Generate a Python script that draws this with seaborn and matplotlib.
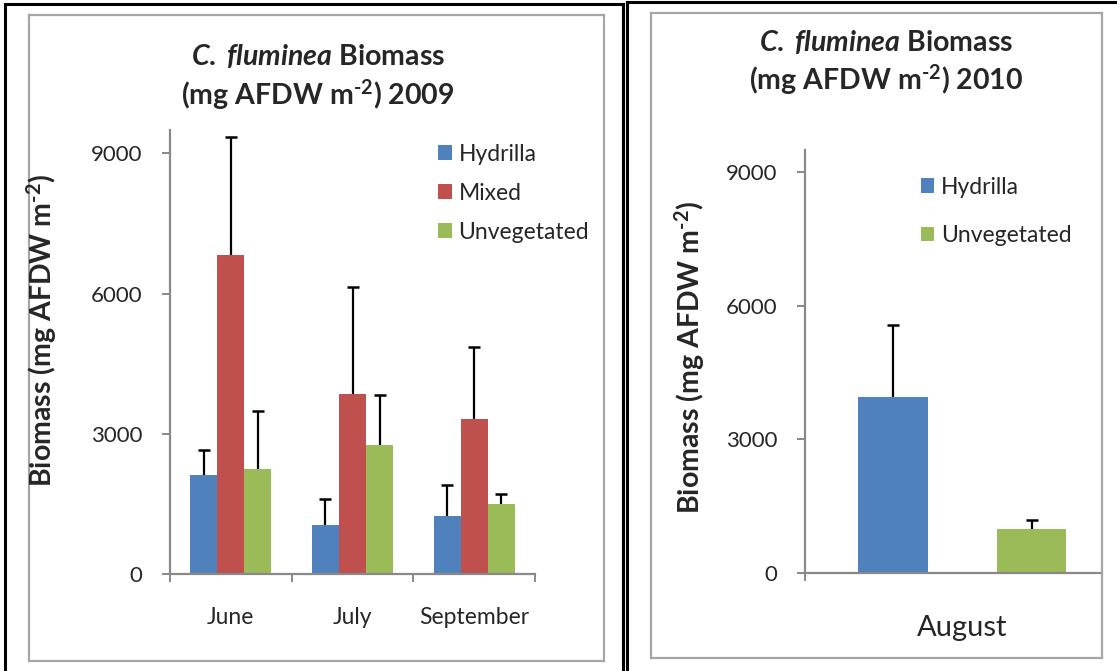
import matplotlib
matplotlib.use("Agg")
import matplotlib.pyplot as plt
from matplotlib.lines import Line2D
from matplotlib.patches import Patch
import seaborn as sns
import pandas as pd

# ---------------- data ----------------
months_2009 = ["June", "July", "September"]
hydrilla_2009 = [2110, 1050, 1250]
mixed_2009 = [6830, 3850, 3310]
unveg_2009 = [2240, 2750, 1500]
hydrilla_2009_err = [550, 565, 655]
mixed_2009_err = [2530, 2290, 1540]
unveg_2009_err = [1250, 1090, 210]

months_2010 = ["August"]
hydrilla_2010 = [3950]
unveg_2010 = [990]
hydrilla_2010_err = [1630]
unveg_2010_err = [190]

series = ["Hydrilla", "Mixed", "Unvegetated"]
colors = {"Hydrilla": "#4F81BD", "Mixed": "#C0504D", "Unvegetated": "#9BBB59"}
yticks = [0, 3000, 6000, 9000]

sns.set_theme(style="white")
plt.rcParams["font.family"] = ["Lato", "DejaVu Sans"]
plt.rcParams["mathtext.fontset"] = "custom"
plt.rcParams["mathtext.rm"] = "Lato:bold"
plt.rcParams["mathtext.bf"] = "Lato:bold"
plt.rcParams["mathtext.it"] = "Lato:bold:italic"

W, H = 1117, 671
fig = plt.figure(figsize=(W / 100, H / 100), dpi=100)
fig.patch.set_facecolor("white")


def fx(x):
    return x / W


def fy(y):
    return 1 - y / H


def frame(x0, y0, x1, y1, color, lw):
    for xs, ys in [((x0, x1), (y0, y0)), ((x0, x1), (y1, y1)),
                   ((x0, x0), (y0, y1)), ((x1, x1), (y0, y1))]:
        fig.add_artist(Line2D([fx(xs[0]), fx(xs[1])], [fy(ys[0]), fy(ys[1])],
                              transform=fig.transFigure, color=color, lw=lw,
                              solid_capstyle="projecting"))


# borders
frame(5, 4, 623, 700, "black", 2.2)
frame(627, 2, 1130, 700, "black", 2.2)
frame(29, 15, 604, 661, "#A6A6A6", 1.6)
frame(651, 13, 1102, 658, "#A6A6A6", 1.6)

GRAY = "#898989"
SUP = r"$^{\text{-2}}$"
TITLE1 = r"$\mathit{C.\;fluminea}$ Biomass"


def style_axes(ax):
    sns.despine(ax=ax)
    for s in ["left", "bottom"]:
        ax.spines[s].set_color(GRAY)
        ax.spines[s].set_linewidth(1.6)
    ax.set_ylim(0, 9500)
    ax.set_yticks(yticks)
    ax.set_yticklabels([str(v) for v in yticks])
    ax.tick_params(axis="y", which="major", direction="out", length=6,
                   width=1.4, color=GRAY, labelsize=16, pad=14,
                   left=True)
    ax.set_xlabel("")
    ax.set_ylabel("")
    ax.set_facecolor("white")


def add_errors(ax, lookup):
    for p in ax.patches:
        h = p.get_height()
        if h != h or h == 0:
            continue
        key = round(h)
        if key not in lookup:
            continue
        xc = p.get_x() + p.get_width() / 2
        _, caps, _ = ax.errorbar([xc], [h], yerr=[[0], [lookup[key]]],
                                 fmt="none", ecolor="black", elinewidth=1.6,
                                 capsize=4.3, capthick=1.8, zorder=5)
        for c in caps:
            yd = c.get_ydata()
            if len(yd) and abs(yd[0] - h) < 1e-6:
                c.set_visible(False)


# ---------------- 2009 panel ----------------
df09 = pd.DataFrame({
    "month": months_2009 * 3,
    "series": ["Hydrilla"] * 3 + ["Mixed"] * 3 + ["Unvegetated"] * 3,
    "value": hydrilla_2009 + mixed_2009 + unveg_2009,
})
err09 = {}
for vals, errs in [(hydrilla_2009, hydrilla_2009_err), (mixed_2009, mixed_2009_err),
                   (unveg_2009, unveg_2009_err)]:
    for v, e in zip(vals, errs):
        err09[round(v)] = e

ax1 = fig.add_axes([fx(170), fy(574), fx(535) - fx(170), fy(130) - fy(574)])
sns.barplot(data=df09, x="month", y="value", hue="series", hue_order=series,
            order=months_2009, palette=colors, width=0.667, errorbar=None,
            saturation=1, legend=False, ax=ax1, edgecolor="none")
add_errors(ax1, err09)
style_axes(ax1)
ax1.set_xlim(-0.5, 2.5)
ax1.set_xticks([0, 1, 2])
ax1.set_xticklabels(months_2009)
ax1.set_xticks([-0.5, 0.5, 1.5, 2.5], minor=True)
ax1.tick_params(axis="x", which="major", length=0, labelsize=16.5, pad=24)
ax1.tick_params(axis="x", which="minor", direction="out", length=6,
                width=1.4, color=GRAY, bottom=True)
handles = [Patch(facecolor=colors[s], edgecolor="none") for s in series]
ax1.legend(handles, series, loc="upper left", bbox_to_anchor=(0.69, 1.005),
           frameon=False, fontsize=16.5, handlelength=0.6, handleheight=0.6,
           handletextpad=0.3, labelspacing=0.78, borderaxespad=0.3)

fig.text(fx(318), fy(56), TITLE1, ha="center", va="center", fontsize=20.5,
         fontweight="bold")
fig.text(fx(318), fy(95), "(mg AFDW m" + SUP + ") 2009", ha="center",
         va="center", fontsize=20.5, fontweight="bold")
fig.text(fx(42), fy(330), "Biomass (mg AFDW m" + SUP + ")", ha="center",
         va="center", rotation=90, fontsize=20.5, fontweight="bold")

# ---------------- 2010 panel ----------------
df10 = pd.DataFrame({
    "month": months_2010 * 2,
    "series": ["Hydrilla", "Unvegetated"],
    "value": hydrilla_2010 + unveg_2010,
})
err10 = {round(hydrilla_2010[0]): hydrilla_2010_err[0],
         round(unveg_2010[0]): unveg_2010_err[0]}

ax2 = fig.add_axes([fx(805), fy(573), fx(1102) - fx(805), fy(150) - fy(573)])
sns.barplot(data=df10, x="month", y="value", hue="series", hue_order=series,
            order=months_2010, palette=colors, width=0.7, errorbar=None,
            saturation=1, legend=False, ax=ax2, edgecolor="none")
add_errors(ax2, err10)
style_axes(ax2)
ax2.set_xlim(-0.53, 0.47)
ax2.set_xticks([0])
ax2.set_xticklabels(months_2010)
ax2.set_xticks([-0.53], minor=True)
ax2.tick_params(axis="x", which="major", length=0, labelsize=21, pad=30)
ax2.tick_params(axis="x", which="minor", direction="out", length=6,
                width=1.4, color=GRAY, bottom=True)
hs2 = ["Hydrilla", "Unvegetated"]
ax2.legend([Patch(facecolor=colors[s], edgecolor="none") for s in hs2], hs2,
           loc="upper left", bbox_to_anchor=(0.335, 0.975), frameon=False,
           fontsize=16.5, handlelength=0.6, handleheight=0.6,
           handletextpad=0.3, labelspacing=1.2, borderaxespad=0.3)

fig.text(fx(886), fy(42), TITLE1, ha="center", va="center", fontsize=20.5,
         fontweight="bold")
fig.text(fx(886), fy(80), "(mg AFDW m" + SUP + ") 2010", ha="center",
         va="center", fontsize=20.5, fontweight="bold")
fig.text(fx(690), fy(357), "Biomass (mg AFDW m" + SUP + ")", ha="center",
         va="center", rotation=90, fontsize=20.5, fontweight="bold")

fig.savefig("out.png", dpi=100, facecolor="white")
